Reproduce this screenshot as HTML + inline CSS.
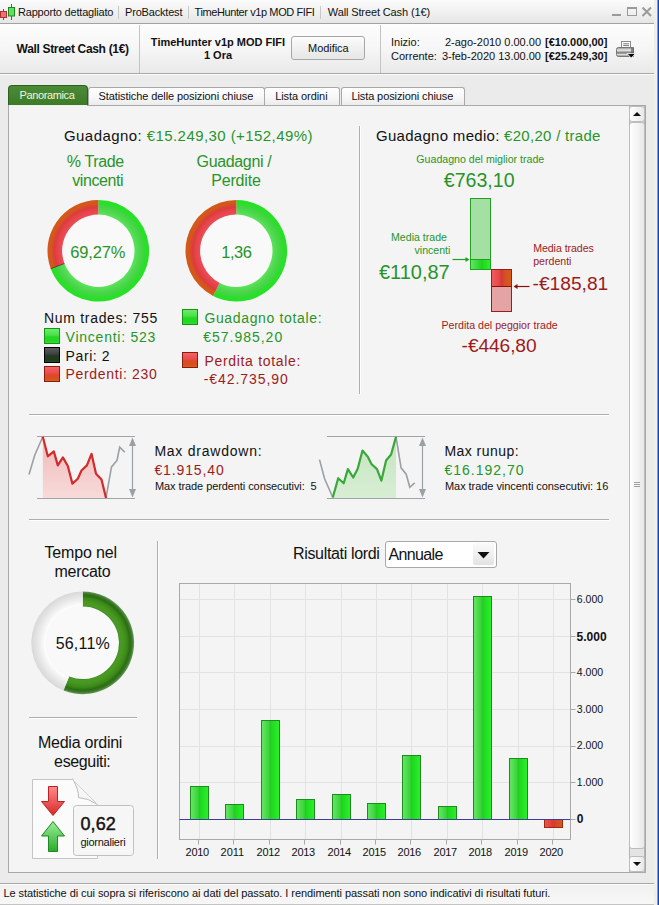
<!DOCTYPE html>
<html><head><meta charset="utf-8"><style>
html,body{margin:0;padding:0;width:659px;height:905px;overflow:hidden;font-family:"Liberation Sans", sans-serif;}
</style></head><body>
<div style="position:absolute;left:0px;top:0px;width:659px;height:905px;background:#ebebeb;"></div>
<div style="position:absolute;left:0px;top:0px;width:654px;height:23px;background:linear-gradient(#fbfbfb,#f3f3f3 40%,#e6e6e6);"></div>
<div style="position:absolute;left:0px;top:23px;width:654px;height:1px;background:#a3a3a3;"></div>
<div style="position:absolute;left:0px;top:24px;width:654px;height:49px;background:linear-gradient(#fdfdfd,#f6f6f6 50%,#e9e9e9);"></div>
<div style="position:absolute;left:0px;top:73px;width:654px;height:1px;background:#a8a8a8;"></div>
<div style="position:absolute;left:0px;top:74px;width:654px;height:1px;background:#fbfbfb;"></div>
<div style="position:absolute;left:139px;top:25px;width:1px;height:48px;background:#c4c4c4;"></div>
<div style="position:absolute;left:380px;top:25px;width:1px;height:48px;background:#c4c4c4;"></div>
<div style="position:absolute;left:654px;top:0px;width:3px;height:905px;background:#efeeea;"></div>
<div style="position:absolute;left:657px;top:0px;width:1px;height:905px;background:#7d9bd6;"></div>
<div style="position:absolute;left:658px;top:0px;width:1px;height:905px;background:#0a47bf;"></div>
<svg style="position:absolute;left:0;top:0" width="18" height="23"><line x1="3.5" y1="9" x2="3.5" y2="20" stroke="#a33" /><rect x="0.5" y="11.5" width="6" height="6" fill="#f07070" stroke="#b03030"/><line x1="11.5" y1="4" x2="11.5" y2="20" stroke="#1a8a1a"/><rect x="8.5" y="7.5" width="6" height="8.5" fill="#60e060" stroke="#1a8a1a"/></svg>
<div style="position:absolute;top:6.69px;font-size:11px;line-height:11px;color:#111;font-weight:normal;white-space:pre;letter-spacing:-0.194px;left:18.00px;">Rapporto dettagliato</div>
<div style="position:absolute;left:118px;top:6px;width:1px;height:13px;background:#c8c8c8;"></div>
<div style="position:absolute;top:6.69px;font-size:11px;line-height:11px;color:#111;font-weight:normal;white-space:pre;letter-spacing:-0.181px;left:125.00px;">ProBacktest</div>
<div style="position:absolute;left:188px;top:6px;width:1px;height:13px;background:#c8c8c8;"></div>
<div style="position:absolute;top:6.69px;font-size:11px;line-height:11px;color:#111;font-weight:normal;white-space:pre;letter-spacing:-0.408px;left:194.60px;">TimeHunter v1p MOD FIFI</div>
<div style="position:absolute;left:320px;top:6px;width:1px;height:13px;background:#c8c8c8;"></div>
<div style="position:absolute;top:6.69px;font-size:11px;line-height:11px;color:#111;font-weight:normal;white-space:pre;letter-spacing:-0.123px;left:327.80px;">Wall Street Cash (1€)</div>
<div style="position:absolute;left:612px;top:14px;width:9px;height:2px;background:#9a9a9a;"></div>
<div style="position:absolute;left:627px;top:7px;width:10px;height:9px;box-sizing:border-box;border:1px solid #9a9a9a;border-top-width:2px;"></div>
<svg style="position:absolute;left:641px;top:6px" width="12" height="11"><path d="M1.5 1.5 L10 10 M10 1.5 L1.5 10" stroke="#9a9a9a" stroke-width="2"/></svg>
<div style="position:absolute;top:43.24px;font-size:12px;line-height:12px;color:#111;font-weight:bold;white-space:pre;letter-spacing:-0.326px;left:16.60px;">Wall Street Cash (1€)</div>
<div style="position:absolute;top:36.69px;font-size:11px;line-height:11px;color:#111;font-weight:bold;white-space:pre;left:-182.00px;width:800px;text-align:center;">TimeHunter v1p MOD FIFI</div>
<div style="position:absolute;top:49.69px;font-size:11px;line-height:11px;color:#111;font-weight:bold;white-space:pre;left:-182.00px;width:800px;text-align:center;">1 Ora</div>
<div style="position:absolute;left:291px;top:36px;width:74px;height:24px;box-sizing:border-box;border:1px solid #a6a6a6;border-radius:3px;background:linear-gradient(#fdfdfd,#f0f0f0 50%,#e6e6e6);"></div>
<div style="position:absolute;top:42.99px;font-size:11px;line-height:11px;color:#111;font-weight:normal;white-space:pre;letter-spacing:-0.067px;left:-71.73px;width:800px;text-align:center;">Modifica</div>
<div style="position:absolute;top:36.69px;font-size:11px;line-height:11px;color:#111;font-weight:normal;white-space:pre;left:391.00px;">Inizio:</div>
<div style="position:absolute;top:50.69px;font-size:11px;line-height:11px;color:#111;font-weight:normal;white-space:pre;left:391.00px;">Corrente:</div>
<div style="position:absolute;top:36.69px;font-size:11px;line-height:11px;color:#111;font-weight:normal;white-space:pre;right:118.00px;">2-ago-2010 0.00.00</div>
<div style="position:absolute;top:50.69px;font-size:11px;line-height:11px;color:#111;font-weight:normal;white-space:pre;right:118.00px;">3-feb-2020 13.00.00</div>
<div style="position:absolute;top:36.69px;font-size:11px;line-height:11px;color:#111;font-weight:bold;white-space:pre;left:545.00px;">[€10.000,00]</div>
<div style="position:absolute;top:50.69px;font-size:11px;line-height:11px;color:#111;font-weight:bold;white-space:pre;left:545.00px;">[€25.249,30]</div>
<svg style="position:absolute;left:608px;top:33px" width="34" height="30">
<defs><linearGradient id="pg" x1="0" y1="0" x2="0" y2="1"><stop offset="0" stop-color="#8c8c8c"/><stop offset="0.3" stop-color="#ececec"/><stop offset="0.5" stop-color="#9a9a9a"/><stop offset="0.62" stop-color="#7a7a7a"/><stop offset="0.78" stop-color="#e0e0e0"/><stop offset="1" stop-color="#7e7e7e"/></linearGradient></defs>
<rect x="13.5" y="8.5" width="9" height="6.5" fill="#fdfdfd" stroke="#8a8a8a"/>
<line x1="15.2" y1="10.8" x2="21" y2="10.8" stroke="#7a7a7a"/>
<line x1="15.2" y1="12.6" x2="21" y2="12.6" stroke="#7a7a7a"/>
<path d="M10.5 14.5 L25.5 14.5 L25.5 23.5 L10.5 23.5 Q8.5 23.5 8.5 21.5 L8.5 16.5 Q8.5 14.5 10.5 14.5 Z" fill="url(#pg)" stroke="#777"/>
<rect x="23" y="15" width="2.5" height="8" fill="#555" opacity="0.6"/>
<path d="M19 20.5 L27.5 20.5 L23.25 25 Z" fill="#0a0a0a" stroke="#fafafa" stroke-width="0.8" stroke-linejoin="round"/>
</svg>
<div style="position:absolute;left:8px;top:85px;width:80px;height:20px;box-sizing:border-box;border-radius:4px 4px 0 0;background:linear-gradient(#4b8b35,#3e7a2a);border:1px solid #2f5f20;border-bottom:none;"></div>
<div style="position:absolute;top:89.89px;font-size:11px;line-height:11px;color:#f2f5dc;font-weight:normal;white-space:pre;letter-spacing:-0.367px;left:-353.08px;width:800px;text-align:center;">Panoramica</div>
<div style="position:absolute;left:88px;top:87px;width:177px;height:18px;box-sizing:border-box;border-radius:3px 3px 0 0;background:linear-gradient(#ffffff,#f6f6f6 60%,#ececec);border:1px solid #a9a9a9;border-bottom:none;"></div>
<div style="position:absolute;top:91.09px;font-size:11px;line-height:11px;color:#111;font-weight:normal;white-space:pre;letter-spacing:-0.090px;left:-224.14px;width:800px;text-align:center;">Statistiche delle posizioni chiuse</div>
<div style="position:absolute;left:264px;top:87px;width:76px;height:18px;box-sizing:border-box;border-radius:3px 3px 0 0;background:linear-gradient(#ffffff,#f6f6f6 60%,#ececec);border:1px solid #a9a9a9;border-bottom:none;"></div>
<div style="position:absolute;top:91.09px;font-size:11px;line-height:11px;color:#111;font-weight:normal;white-space:pre;letter-spacing:-0.073px;left:-98.64px;width:800px;text-align:center;">Lista ordini</div>
<div style="position:absolute;left:341px;top:87px;width:124px;height:18px;box-sizing:border-box;border-radius:3px 3px 0 0;background:linear-gradient(#ffffff,#f6f6f6 60%,#ececec);border:1px solid #a9a9a9;border-bottom:none;"></div>
<div style="position:absolute;top:91.09px;font-size:11px;line-height:11px;color:#111;font-weight:normal;white-space:pre;letter-spacing:-0.093px;left:2.35px;width:800px;text-align:center;">Lista posizioni chiuse</div>
<div style="position:absolute;left:8px;top:105px;width:638px;height:768px;box-sizing:border-box;border:1px solid #a9a9a9;background:#f4f4f4;"></div>
<div style="position:absolute;left:9px;top:105px;width:78px;height:1px;background:#eef5e8;"></div>
<div style="position:absolute;left:629px;top:106px;width:16px;height:766px;box-sizing:border-box;border-left:1px solid #b4b4b4;border-right:1px solid #b4b4b4;background:#e4e4e4;"></div>
<div style="position:absolute;left:629px;top:106px;width:16px;height:16px;box-sizing:border-box;border:1px solid #bcbcbc;border-radius:3px;background:linear-gradient(90deg,#fefefe,#f4f4f4 50%,#e8e8e8);"></div>
<svg style="position:absolute;left:629px;top:106px" width="16" height="16"><path d="M4 10 L12 10 L8 6 Z" fill="#111"/></svg>
<div style="position:absolute;left:629px;top:122px;width:16px;height:727px;box-sizing:border-box;border:1px solid #bcbcbc;border-radius:3px;background:linear-gradient(90deg,#fefefe,#f4f4f4 50%,#e8e8e8);"></div>
<div style="position:absolute;left:634px;top:482px;width:6px;height:1px;background:#a0a0a0;"></div>
<div style="position:absolute;left:634px;top:484px;width:6px;height:1px;background:#a0a0a0;"></div>
<div style="position:absolute;left:634px;top:486px;width:6px;height:1px;background:#a0a0a0;"></div>
<div style="position:absolute;left:629px;top:856px;width:16px;height:16px;box-sizing:border-box;border:1px solid #bcbcbc;border-radius:3px;background:linear-gradient(90deg,#fefefe,#f4f4f4 50%,#e8e8e8);"></div>
<svg style="position:absolute;left:629px;top:856px" width="16" height="16"><path d="M4 6 L12 6 L8 10 Z" fill="#111"/></svg>
<div style="position:absolute;left:0px;top:883px;width:654px;height:1px;background:#a8a8a8;"></div>
<div style="position:absolute;left:0px;top:884px;width:654px;height:1px;background:#fcfcfc;"></div>
<div style="position:absolute;left:0px;top:885px;width:654px;height:19px;background:linear-gradient(#f1f1f1,#f7f7f7);"></div>
<div style="position:absolute;left:0px;top:904px;width:654px;height:1px;background:#c4c4c4;"></div>
<div style="position:absolute;top:887.89px;font-size:11px;line-height:11px;color:#111;font-weight:normal;white-space:pre;letter-spacing:-0.066px;left:3.40px;">Le statistiche di cui sopra si riferiscono ai dati del passato. I rendimenti passati non sono indicativi di risultati futuri.</div>
<div style="position:absolute;top:128.30px;font-size:15px;line-height:15px;color:#111;font-weight:normal;white-space:pre;letter-spacing:0.430px;left:64.00px;">Guadagno: <span style="color:#289428">€15.249,30 (+152,49%)</span></div>
<div style="position:absolute;top:153.96px;font-size:16px;line-height:16px;color:#289428;font-weight:normal;white-space:pre;letter-spacing:-0.366px;left:-304.68px;width:800px;text-align:center;">% Trade</div>
<div style="position:absolute;top:173.16px;font-size:16px;line-height:16px;color:#289428;font-weight:normal;white-space:pre;letter-spacing:-0.436px;left:-302.32px;width:800px;text-align:center;">vincenti</div>
<div style="position:absolute;top:153.96px;font-size:16px;line-height:16px;color:#289428;font-weight:normal;white-space:pre;letter-spacing:-0.353px;left:-166.03px;width:800px;text-align:center;">Guadagni /</div>
<div style="position:absolute;top:173.16px;font-size:16px;line-height:16px;color:#289428;font-weight:normal;white-space:pre;letter-spacing:-0.184px;left:-164.09px;width:800px;text-align:center;">Perdite</div>
<div style="position:absolute;left:62px;top:214px;width:73px;height:73px;border-radius:50%;background:#f9f9f9;"></div>
<div style="position:absolute;left:200px;top:214px;width:73px;height:73px;border-radius:50%;background:#f9f9f9;"></div>
<svg style="position:absolute;left:0;top:0;overflow:visible" width="659" height="905"><defs><radialGradient id="d1a" gradientUnits="userSpaceOnUse" cx="98.3" cy="250.8" r="50.8"><stop offset="0.713" stop-color="#5ce25c"/><stop offset="0.8" stop-color="#4ed84e"/><stop offset="0.87" stop-color="#44d444"/><stop offset="0.91" stop-color="#30dc30"/><stop offset="1" stop-color="#22e222"/></radialGradient><radialGradient id="d1b" gradientUnits="userSpaceOnUse" cx="98.3" cy="250.8" r="50.8"><stop offset="0.713" stop-color="#ec4c56"/><stop offset="0.8" stop-color="#e6444c"/><stop offset="0.86" stop-color="#dc3c3c"/><stop offset="0.9" stop-color="#d84a2a"/><stop offset="0.93" stop-color="#d6561c"/><stop offset="1" stop-color="#d05a18"/></radialGradient></defs><path d="M98.30 200.00 A50.8 50.8 0 1 1 50.76 268.70 L64.42 263.55 A36.2 36.2 0 1 0 98.30 214.60 Z" fill="url(#d1a)"/><path d="M50.76 268.70 A50.8 50.8 0 0 1 98.30 200.00 L98.30 214.60 A36.2 36.2 0 0 0 64.42 263.55 Z" fill="url(#d1b)"/><line x1="64.42" y1="263.55" x2="50.76" y2="268.70" stroke="#333" stroke-width="0.8"/></svg>
<svg style="position:absolute;left:0;top:0;overflow:visible" width="659" height="905"><defs><radialGradient id="d2a" gradientUnits="userSpaceOnUse" cx="236.3" cy="250.8" r="50.8"><stop offset="0.713" stop-color="#5ce25c"/><stop offset="0.8" stop-color="#4ed84e"/><stop offset="0.87" stop-color="#44d444"/><stop offset="0.91" stop-color="#30dc30"/><stop offset="1" stop-color="#22e222"/></radialGradient><radialGradient id="d2b" gradientUnits="userSpaceOnUse" cx="236.3" cy="250.8" r="50.8"><stop offset="0.713" stop-color="#ec4c56"/><stop offset="0.8" stop-color="#e6444c"/><stop offset="0.86" stop-color="#dc3c3c"/><stop offset="0.9" stop-color="#d84a2a"/><stop offset="0.93" stop-color="#d6561c"/><stop offset="1" stop-color="#d05a18"/></radialGradient></defs><path d="M236.30 200.00 A50.8 50.8 0 1 1 213.04 295.96 L219.72 282.98 A36.2 36.2 0 1 0 236.30 214.60 Z" fill="url(#d2a)"/><path d="M213.04 295.96 A50.8 50.8 0 0 1 236.30 200.00 L236.30 214.60 A36.2 36.2 0 0 0 219.72 282.98 Z" fill="url(#d2b)"/></svg>
<div style="position:absolute;top:243.63px;font-size:16.5px;line-height:16.5px;color:#289428;font-weight:normal;white-space:pre;letter-spacing:-0.154px;left:-302.18px;width:800px;text-align:center;">69,27%</div>
<div style="position:absolute;top:243.63px;font-size:16.5px;line-height:16.5px;color:#289428;font-weight:normal;white-space:pre;letter-spacing:-0.442px;left:-163.62px;width:800px;text-align:center;">1,36</div>
<div style="position:absolute;top:310.95px;font-size:14px;line-height:14px;color:#111;font-weight:normal;white-space:pre;letter-spacing:0.693px;left:44.00px;">Num trades: 755</div>
<div style="position:absolute;left:44px;top:328px;width:16px;height:16px;box-sizing:border-box;background:linear-gradient(#6cec6c,#48e048 45%,#26d626 55%,#22d822 85%,#30e030);border:1px solid #169416;"></div>
<div style="position:absolute;top:329.85px;font-size:14px;line-height:14px;color:#289428;font-weight:normal;white-space:pre;letter-spacing:0.758px;left:65.60px;">Vincenti: 523</div>
<div style="position:absolute;left:44px;top:347px;width:16px;height:16px;box-sizing:border-box;background:linear-gradient(#5c5c5c,#3e3e3e 45%,#203a20 55%,#1e3a1e 85%,#2c4a2c);border:1px solid #000;"></div>
<div style="position:absolute;top:348.85px;font-size:14px;line-height:14px;color:#111;font-weight:normal;white-space:pre;letter-spacing:0.589px;left:65.60px;">Pari: 2</div>
<div style="position:absolute;left:44px;top:366px;width:16px;height:16px;box-sizing:border-box;background:linear-gradient(#f56464,#ec4a4a 45%,#dc4a28 55%,#d4521c 85%,#dc6020);border:1px solid #8c1c10;"></div>
<div style="position:absolute;top:367.45px;font-size:14px;line-height:14px;color:#9c1c1c;font-weight:normal;white-space:pre;letter-spacing:0.650px;left:65.60px;">Perdenti: 230</div>
<div style="position:absolute;left:182px;top:309px;width:16px;height:16px;box-sizing:border-box;background:linear-gradient(#6cec6c,#48e048 45%,#26d626 55%,#22d822 85%,#30e030);border:1px solid #169416;"></div>
<div style="position:absolute;top:311.35px;font-size:14px;line-height:14px;color:#289428;font-weight:normal;white-space:pre;letter-spacing:0.652px;left:204.40px;">Guadagno totale:</div>
<div style="position:absolute;top:329.75px;font-size:14px;line-height:14px;color:#289428;font-weight:normal;white-space:pre;letter-spacing:0.991px;left:203.20px;">€57.985,20</div>
<div style="position:absolute;left:182px;top:352px;width:16px;height:16px;box-sizing:border-box;background:linear-gradient(#f56464,#ec4a4a 45%,#dc4a28 55%,#d4521c 85%,#dc6020);border:1px solid #8c1c10;"></div>
<div style="position:absolute;top:354.25px;font-size:14px;line-height:14px;color:#9c1c1c;font-weight:normal;white-space:pre;letter-spacing:0.686px;left:204.40px;">Perdita totale:</div>
<div style="position:absolute;top:371.95px;font-size:14px;line-height:14px;color:#9c1c1c;font-weight:normal;white-space:pre;letter-spacing:0.947px;left:203.70px;">-€42.735,90</div>
<div style="position:absolute;left:359px;top:126px;width:1px;height:268px;background:#aeaeae;"></div>
<div style="position:absolute;left:360px;top:126px;width:1px;height:268px;background:#ffffff;"></div>
<div style="position:absolute;top:128.30px;font-size:15px;line-height:15px;color:#111;font-weight:normal;white-space:pre;letter-spacing:0.290px;left:376.00px;">Guadagno medio: <span style="color:#289428">€20,20 / trade</span></div>
<div style="position:absolute;top:153.83px;font-size:10.6px;line-height:10.6px;color:#289428;font-weight:normal;white-space:pre;letter-spacing:0.004px;left:80.30px;width:800px;text-align:center;">Guadagno del miglior trade</div>
<div style="position:absolute;top:170.81px;font-size:19.6px;line-height:19.6px;color:#289428;font-weight:normal;white-space:pre;left:79.20px;width:800px;text-align:center;">€763,10</div>
<svg style="position:absolute;left:0;top:0;overflow:visible" width="659" height="905">
<defs>
<linearGradient id="bg1" x1="0" x2="1" y1="0" y2="0"><stop offset="0" stop-color="#5ee85e"/><stop offset="0.5" stop-color="#2ad42a"/><stop offset="0.55" stop-color="#18d818"/><stop offset="1" stop-color="#30ec30"/></linearGradient>
<linearGradient id="br1" x1="0" x2="1" y1="0" y2="0"><stop offset="0" stop-color="#f25c5c"/><stop offset="0.35" stop-color="#e84848"/><stop offset="0.5" stop-color="#d83838"/><stop offset="0.7" stop-color="#d05420"/><stop offset="1" stop-color="#dc5a1c"/></linearGradient>
</defs>
<rect x="470.5" y="198.5" width="20" height="71" fill="#a4e0a4" stroke="#22a022"/>
<rect x="471" y="259.5" width="19" height="9.5" fill="url(#bg1)"/>
<line x1="470.5" y1="259.5" x2="490.5" y2="259.5" stroke="#22a022"/>
<rect x="491.5" y="269.5" width="20" height="42" fill="#e4a4a4" stroke="#9a1c1c"/>
<rect x="492" y="270" width="19" height="16.5" fill="url(#br1)"/>
<line x1="491.5" y1="286.5" x2="511.5" y2="286.5" stroke="#8a1010"/>
<line x1="452.5" y1="259.5" x2="467" y2="259.5" stroke="#22a022" stroke-width="1.2"/>
<path d="M469.5 259.5 L465.5 257 L465.5 262 Z" fill="#22a022"/>
<line x1="529.5" y1="286.5" x2="516" y2="286.5" stroke="#8a1010" stroke-width="1.2"/>
<path d="M513.5 286.5 L517.5 284 L517.5 289 Z" fill="#8a1010"/>
</svg>
<div style="position:absolute;top:231.93px;font-size:10.6px;line-height:10.6px;color:#289428;font-weight:normal;white-space:pre;right:212.00px;">Media trade</div>
<div style="position:absolute;top:245.13px;font-size:10.6px;line-height:10.6px;color:#289428;font-weight:normal;white-space:pre;right:208.60px;">vincenti</div>
<div style="position:absolute;top:261.87px;font-size:20px;line-height:20px;color:#289428;font-weight:normal;white-space:pre;right:209.30px;">€110,87</div>
<div style="position:absolute;top:242.83px;font-size:10.6px;line-height:10.6px;color:#9c1c1c;font-weight:normal;white-space:pre;letter-spacing:-0.059px;left:533.20px;">Media trades</div>
<div style="position:absolute;top:256.43px;font-size:10.6px;line-height:10.6px;color:#9c1c1c;font-weight:normal;white-space:pre;left:533.20px;">perdenti</div>
<div style="position:absolute;top:273.95px;font-size:19.2px;line-height:19.2px;color:#9c1c1c;font-weight:normal;white-space:pre;left:532.50px;">-€185,81</div>
<div style="position:absolute;top:320.13px;font-size:10.6px;line-height:10.6px;color:#9c1c1c;font-weight:normal;white-space:pre;letter-spacing:0.007px;left:99.60px;width:800px;text-align:center;">Perdita del peggior trade</div>
<div style="position:absolute;top:336.35px;font-size:19.2px;line-height:19.2px;color:#9c1c1c;font-weight:normal;white-space:pre;letter-spacing:-0.107px;left:99.05px;width:800px;text-align:center;">-€446,80</div>
<div style="position:absolute;left:29px;top:414px;width:580px;height:1px;background:#aeaeae;"></div>
<div style="position:absolute;left:29px;top:415px;width:580px;height:1px;background:#ffffff;"></div>
<div style="position:absolute;left:29px;top:519px;width:580px;height:1px;background:#aeaeae;"></div>
<div style="position:absolute;left:29px;top:520px;width:580px;height:1px;background:#ffffff;"></div>
<svg style="position:absolute;left:0;top:0;overflow:visible" width="659" height="905"><defs><linearGradient id="ddf" x1="0" x2="0" y1="0" y2="1"><stop offset="0" stop-color="#f0b8b8"/><stop offset="1" stop-color="#f8dada"/></linearGradient><linearGradient id="ruf" x1="0" x2="0" y1="0" y2="1"><stop offset="0" stop-color="#c4e4c0"/><stop offset="1" stop-color="#d8eed4"/></linearGradient></defs><polygon points="42.8,436.8 47.8,456.3 53.8,451.4 57.8,465.4 62.9,457.4 67.8,466.0 72.4,483.6 77.8,478.7 81.5,470.5 86.9,465.4 91.5,453.8 96.0,473.8 101.5,479.6 106.0,497.9 106,498 42.8,498" fill="url(#ddf)"/><line x1="37" y1="436.5" x2="135" y2="436.5" stroke="#9ea4a8" stroke-width="1.2"/><line x1="37" y1="498.5" x2="135" y2="498.5" stroke="#9ea4a8" stroke-width="1.2"/><polyline points="29.0,474.5 34.8,455.0 42.8,436.8" fill="none" stroke="#9aa0a4" stroke-width="1.6"/><polyline points="106.0,497.9 111.5,466.9 117.0,460.5 119.7,447.2 124.8,452.3" fill="none" stroke="#9aa0a4" stroke-width="1.6"/><polyline points="42.8,436.8 47.8,456.3 53.8,451.4 57.8,465.4 62.9,457.4 67.8,466.0 72.4,483.6 77.8,478.7 81.5,470.5 86.9,465.4 91.5,453.8 96.0,473.8 101.5,479.6 106.0,497.9" fill="none" stroke="#d42a2a" stroke-width="2.2" stroke-linejoin="round"/><line x1="132.5" y1="440" x2="132.5" y2="495" stroke="#9aa0a4" stroke-width="1.2"/><path d="M132.5 437.5 L129 446 L136 446 Z M132.5 497.5 L129 489 L136 489 Z" fill="#9aa0a4"/><polygon points="332.8,497.5 338.2,478.2 343.7,483.3 347.9,469.1 353.2,477.5 357.7,468.7 362.5,450.5 367.9,456.9 371.6,464.2 377.0,469.1 381.4,480.6 386.1,460.5 391.1,454.5 396.0,436.8 396,498 332.8,498" fill="url(#ruf)"/><line x1="327" y1="436.5" x2="425" y2="436.5" stroke="#9ea4a8" stroke-width="1.2"/><line x1="327" y1="498.5" x2="425" y2="498.5" stroke="#9ea4a8" stroke-width="1.2"/><polyline points="319.5,459.6 324.6,478.7 332.8,497.5" fill="none" stroke="#9aa0a4" stroke-width="1.6"/><polyline points="396.0,436.8 401.1,467.8 406.2,474.2 409.8,487.3 414.7,482.9" fill="none" stroke="#9aa0a4" stroke-width="1.6"/><polyline points="332.8,497.5 338.2,478.2 343.7,483.3 347.9,469.1 353.2,477.5 357.7,468.7 362.5,450.5 367.9,456.9 371.6,464.2 377.0,469.1 381.4,480.6 386.1,460.5 391.1,454.5 396.0,436.8" fill="none" stroke="#38a838" stroke-width="2.2" stroke-linejoin="round"/><line x1="422.5" y1="440" x2="422.5" y2="495" stroke="#9aa0a4" stroke-width="1.2"/><path d="M422.5 437.5 L419 446 L426 446 Z M422.5 497.5 L419 489 L426 489 Z" fill="#9aa0a4"/></svg>
<div style="position:absolute;top:444.35px;font-size:14px;line-height:14px;color:#111;font-weight:normal;white-space:pre;letter-spacing:0.763px;left:154.40px;">Max drawdown:</div>
<div style="position:absolute;top:462.55px;font-size:14px;line-height:14px;color:#9c1c1c;font-weight:normal;white-space:pre;letter-spacing:0.888px;left:154.40px;">€1.915,40</div>
<div style="position:absolute;top:480.89px;font-size:11px;line-height:11px;color:#111;font-weight:normal;white-space:pre;letter-spacing:-0.084px;left:155.00px;">Max trade perdenti consecutivi:  5</div>
<div style="position:absolute;top:444.35px;font-size:14px;line-height:14px;color:#111;font-weight:normal;white-space:pre;letter-spacing:0.473px;left:444.40px;">Max runup:</div>
<div style="position:absolute;top:462.55px;font-size:14px;line-height:14px;color:#289428;font-weight:normal;white-space:pre;letter-spacing:1.014px;left:444.40px;">€16.192,70</div>
<div style="position:absolute;top:480.89px;font-size:11px;line-height:11px;color:#111;font-weight:normal;white-space:pre;letter-spacing:-0.054px;left:445.00px;">Max trade vincenti consecutivi: 16</div>
<div style="position:absolute;left:157px;top:541px;width:1px;height:318px;background:#aeaeae;"></div>
<div style="position:absolute;left:158px;top:541px;width:1px;height:318px;background:#ffffff;"></div>
<div style="position:absolute;left:29px;top:717px;width:108px;height:1px;background:#aeaeae;"></div>
<div style="position:absolute;left:29px;top:718px;width:108px;height:1px;background:#ffffff;"></div>
<div style="position:absolute;top:545.16px;font-size:16px;line-height:16px;color:#111;font-weight:normal;white-space:pre;letter-spacing:-0.154px;left:-319.28px;width:800px;text-align:center;">Tempo nel</div>
<div style="position:absolute;top:563.86px;font-size:16px;line-height:16px;color:#111;font-weight:normal;white-space:pre;letter-spacing:-0.249px;left:-317.57px;width:800px;text-align:center;">mercato</div>
<div style="position:absolute;left:46px;top:606px;width:73px;height:73px;border-radius:50%;background:#f9f9f9;"></div>
<svg style="position:absolute;left:0;top:0;overflow:visible" width="659" height="905"><defs><radialGradient id="d3a" gradientUnits="userSpaceOnUse" cx="82.7" cy="642.8" r="51.4"><stop offset="0.706" stop-color="#3e8a1e"/><stop offset="0.73" stop-color="#4a9a26"/><stop offset="0.8" stop-color="#469620"/><stop offset="0.87" stop-color="#3a8818"/><stop offset="0.92" stop-color="#2c6c14"/><stop offset="0.96" stop-color="#3a7a28"/><stop offset="1" stop-color="#6a9a5a"/></radialGradient><radialGradient id="d3b" gradientUnits="userSpaceOnUse" cx="82.7" cy="642.8" r="51.4"><stop offset="0.706" stop-color="#f7f7f7"/><stop offset="0.73" stop-color="#fdfdfd"/><stop offset="0.8" stop-color="#f2f2f2"/><stop offset="0.9" stop-color="#e4e4e4"/><stop offset="1" stop-color="#d8d8d8"/></radialGradient></defs><path d="M82.70 591.40 A51.4 51.4 0 1 1 63.45 690.46 L69.10 676.46 A36.3 36.3 0 1 0 82.70 606.50 Z" fill="url(#d3a)"/><path d="M63.45 690.46 A51.4 51.4 0 0 1 82.70 591.40 L82.70 606.50 A36.3 36.3 0 0 0 69.10 676.46 Z" fill="url(#d3b)"/></svg>
<div style="position:absolute;top:635.96px;font-size:16px;line-height:16px;color:#111;font-weight:normal;white-space:pre;letter-spacing:0.200px;left:-317.20px;width:800px;text-align:center;">56,11%</div>
<div style="position:absolute;top:735.16px;font-size:16px;line-height:16px;color:#111;font-weight:normal;white-space:pre;letter-spacing:-0.251px;left:-319.93px;width:800px;text-align:center;">Media ordini</div>
<div style="position:absolute;top:754.06px;font-size:16px;line-height:16px;color:#111;font-weight:normal;white-space:pre;letter-spacing:-0.362px;left:-317.73px;width:800px;text-align:center;">eseguiti:</div>
<svg style="position:absolute;left:0;top:0;overflow:visible" width="659" height="905">
<defs>
<linearGradient id="ard" x1="0" x2="0" y1="0" y2="1"><stop offset="0" stop-color="#ff8a8a"/><stop offset="1" stop-color="#d82a2a"/></linearGradient>
<linearGradient id="aru" x1="0" x2="0" y1="0" y2="1"><stop offset="0" stop-color="#9aee9a"/><stop offset="1" stop-color="#2aaa2a"/></linearGradient>
</defs>
<path d="M32.5 779.5 L72.5 779.5 L97.5 804.5 L97.5 858.5 L32.5 858.5 Z" fill="#fbfbfb" stroke="#c4c4c4"/>
<path d="M72.5 778.5 Q79 790 78.5 797.5 Q88 798 97.5 804.5" fill="#f6f6f6" stroke="#bcbcbc"/>
<line x1="72.5" y1="779.5" x2="97.5" y2="804.5" stroke="#cfcfcf"/>
<path d="M48.5 786.5 L57.5 786.5 L57.5 801.5 L64.5 801.5 L53 815.5 L41.5 801.5 L48.5 801.5 Z" fill="url(#ard)" stroke="#b82222"/>
<path d="M53 821.5 L64.5 836 L57.5 836 L57.5 851.5 L48.5 851.5 L48.5 836 L41.5 836 Z" fill="url(#aru)" stroke="#1f8a1f"/>
<rect x="73.5" y="805.5" width="60" height="50" rx="3" fill="#f6f6f6" stroke="#c0c0c0"/>
</svg>
<div style="position:absolute;top:815.06px;font-size:18px;line-height:18px;color:#111;font-weight:normal;white-space:pre;letter-spacing:0.118px;left:80.40px;-webkit-text-stroke:0.45px #111;">0,62</div>
<div style="position:absolute;top:836.59px;font-size:11px;line-height:11px;color:#111;font-weight:normal;white-space:pre;letter-spacing:-0.250px;left:80.40px;">giornalieri</div>
<div style="position:absolute;top:546.46px;font-size:16px;line-height:16px;color:#111;font-weight:normal;white-space:pre;letter-spacing:-0.335px;left:293.00px;">Risultati lordi</div>
<div style="position:absolute;left:385px;top:541px;width:112px;height:27px;box-sizing:border-box;border:1px solid #a8a8a8;border-radius:3px;background:#fff;"></div>
<div style="position:absolute;left:473px;top:543px;width:21px;height:22px;background:linear-gradient(#fafafa,#f0f0f0 50%,#e2e2e2);border-radius:2px;"></div>
<svg style="position:absolute;left:0;top:0" width="659" height="905"><path d="M477.5 552 L489.5 552 L483.5 558.5 Z" fill="#111"/></svg>
<div style="position:absolute;top:546.76px;font-size:16px;line-height:16px;color:#111;font-weight:normal;white-space:pre;letter-spacing:-0.670px;left:388.60px;">Annuale</div>
<svg style="position:absolute;left:0;top:0;overflow:visible" width="659" height="905"><defs><linearGradient id="cbg" x1="0" x2="1" y1="0" y2="0"><stop offset="0" stop-color="#66e866"/><stop offset="0.4" stop-color="#3cd43c"/><stop offset="0.5" stop-color="#24cc24"/><stop offset="0.55" stop-color="#1ed81e"/><stop offset="1" stop-color="#2cf02c"/></linearGradient><linearGradient id="cbr" x1="0" x2="1" y1="0" y2="0"><stop offset="0" stop-color="#f05050"/><stop offset="0.5" stop-color="#d83a30"/><stop offset="1" stop-color="#d06018"/></linearGradient></defs><rect x="179.5" y="583.5" width="391.0" height="256.0" fill="#f4f4f4" stroke="#a9a9a9"/><line x1="180.0" y1="782.5" x2="570.0" y2="782.5" stroke="#e2e2e2"/><line x1="180.0" y1="746.5" x2="570.0" y2="746.5" stroke="#e2e2e2"/><line x1="180.0" y1="709.5" x2="570.0" y2="709.5" stroke="#e2e2e2"/><line x1="180.0" y1="672.5" x2="570.0" y2="672.5" stroke="#e2e2e2"/><line x1="180.0" y1="636.5" x2="570.0" y2="636.5" stroke="#e2e2e2"/><line x1="180.0" y1="599.5" x2="570.0" y2="599.5" stroke="#e2e2e2"/><line x1="199.5" y1="584.0" x2="199.5" y2="839.0" stroke="#e2e2e2"/><line x1="198.5" y1="839.5" x2="198.5" y2="844.5" stroke="#a9a9a9"/><line x1="234.5" y1="584.0" x2="234.5" y2="839.0" stroke="#e2e2e2"/><line x1="233.5" y1="839.5" x2="233.5" y2="844.5" stroke="#a9a9a9"/><line x1="270.5" y1="584.0" x2="270.5" y2="839.0" stroke="#e2e2e2"/><line x1="269.5" y1="839.5" x2="269.5" y2="844.5" stroke="#a9a9a9"/><line x1="305.5" y1="584.0" x2="305.5" y2="839.0" stroke="#e2e2e2"/><line x1="304.5" y1="839.5" x2="304.5" y2="844.5" stroke="#a9a9a9"/><line x1="341.5" y1="584.0" x2="341.5" y2="839.0" stroke="#e2e2e2"/><line x1="340.5" y1="839.5" x2="340.5" y2="844.5" stroke="#a9a9a9"/><line x1="376.5" y1="584.0" x2="376.5" y2="839.0" stroke="#e2e2e2"/><line x1="375.5" y1="839.5" x2="375.5" y2="844.5" stroke="#a9a9a9"/><line x1="411.5" y1="584.0" x2="411.5" y2="839.0" stroke="#e2e2e2"/><line x1="410.5" y1="839.5" x2="410.5" y2="844.5" stroke="#a9a9a9"/><line x1="447.5" y1="584.0" x2="447.5" y2="839.0" stroke="#e2e2e2"/><line x1="446.5" y1="839.5" x2="446.5" y2="844.5" stroke="#a9a9a9"/><line x1="482.5" y1="584.0" x2="482.5" y2="839.0" stroke="#e2e2e2"/><line x1="481.5" y1="839.5" x2="481.5" y2="844.5" stroke="#a9a9a9"/><line x1="518.5" y1="584.0" x2="518.5" y2="839.0" stroke="#e2e2e2"/><line x1="517.5" y1="839.5" x2="517.5" y2="844.5" stroke="#a9a9a9"/><line x1="553.5" y1="584.0" x2="553.5" y2="839.0" stroke="#e2e2e2"/><line x1="552.5" y1="839.5" x2="552.5" y2="844.5" stroke="#a9a9a9"/><rect x="190.5" y="786.5" width="18" height="33" fill="url(#cbg)" stroke="#1c8c1c"/><rect x="225.5" y="804.5" width="18" height="15" fill="url(#cbg)" stroke="#1c8c1c"/><rect x="261.5" y="720.5" width="18" height="99" fill="url(#cbg)" stroke="#1c8c1c"/><rect x="296.5" y="799.5" width="18" height="20" fill="url(#cbg)" stroke="#1c8c1c"/><rect x="332.5" y="794.5" width="18" height="25" fill="url(#cbg)" stroke="#1c8c1c"/><rect x="367.5" y="803.5" width="18" height="16" fill="url(#cbg)" stroke="#1c8c1c"/><rect x="402.5" y="755.5" width="18" height="64" fill="url(#cbg)" stroke="#1c8c1c"/><rect x="438.5" y="806.5" width="18" height="13" fill="url(#cbg)" stroke="#1c8c1c"/><rect x="473.5" y="596.5" width="18" height="223" fill="url(#cbg)" stroke="#1c8c1c"/><rect x="509.5" y="758.5" width="18" height="61" fill="url(#cbg)" stroke="#1c8c1c"/><rect x="544.5" y="819.5" width="18" height="8" fill="url(#cbr)" stroke="#9a2a10"/><line x1="179.5" y1="819.5" x2="570.5" y2="819.5" stroke="#3c3c9c" stroke-width="1"/><line x1="570.5" y1="819.5" x2="575.5" y2="819.5" stroke="#a9a9a9"/><line x1="570.5" y1="782.5" x2="575.5" y2="782.5" stroke="#a9a9a9"/><line x1="570.5" y1="746.5" x2="575.5" y2="746.5" stroke="#a9a9a9"/><line x1="570.5" y1="709.5" x2="575.5" y2="709.5" stroke="#a9a9a9"/><line x1="570.5" y1="672.5" x2="575.5" y2="672.5" stroke="#a9a9a9"/><line x1="570.5" y1="636.5" x2="575.5" y2="636.5" stroke="#a9a9a9"/><line x1="570.5" y1="599.5" x2="575.5" y2="599.5" stroke="#a9a9a9"/></svg>
<div style="position:absolute;top:846.69px;font-size:11px;line-height:11px;color:#111;font-weight:normal;white-space:pre;letter-spacing:-0.295px;left:-202.75px;width:800px;text-align:center;">2010</div>
<div style="position:absolute;top:846.69px;font-size:11px;line-height:11px;color:#111;font-weight:normal;white-space:pre;letter-spacing:-0.019px;left:-167.61px;width:800px;text-align:center;">2011</div>
<div style="position:absolute;top:846.69px;font-size:11px;line-height:11px;color:#111;font-weight:normal;white-space:pre;letter-spacing:-0.295px;left:-131.75px;width:800px;text-align:center;">2012</div>
<div style="position:absolute;top:846.69px;font-size:11px;line-height:11px;color:#111;font-weight:normal;white-space:pre;letter-spacing:-0.295px;left:-96.75px;width:800px;text-align:center;">2013</div>
<div style="position:absolute;top:846.69px;font-size:11px;line-height:11px;color:#111;font-weight:normal;white-space:pre;letter-spacing:-0.295px;left:-60.75px;width:800px;text-align:center;">2014</div>
<div style="position:absolute;top:846.69px;font-size:11px;line-height:11px;color:#111;font-weight:normal;white-space:pre;letter-spacing:-0.295px;left:-25.75px;width:800px;text-align:center;">2015</div>
<div style="position:absolute;top:846.69px;font-size:11px;line-height:11px;color:#111;font-weight:normal;white-space:pre;letter-spacing:-0.295px;left:9.25px;width:800px;text-align:center;">2016</div>
<div style="position:absolute;top:846.69px;font-size:11px;line-height:11px;color:#111;font-weight:normal;white-space:pre;letter-spacing:-0.295px;left:45.25px;width:800px;text-align:center;">2017</div>
<div style="position:absolute;top:846.69px;font-size:11px;line-height:11px;color:#111;font-weight:normal;white-space:pre;letter-spacing:-0.295px;left:80.25px;width:800px;text-align:center;">2018</div>
<div style="position:absolute;top:846.69px;font-size:11px;line-height:11px;color:#111;font-weight:normal;white-space:pre;letter-spacing:-0.295px;left:116.25px;width:800px;text-align:center;">2019</div>
<div style="position:absolute;top:846.69px;font-size:11px;line-height:11px;color:#111;font-weight:normal;white-space:pre;letter-spacing:-0.295px;left:151.25px;width:800px;text-align:center;">2020</div>
<div style="position:absolute;top:777.04px;font-size:10.5px;line-height:10.5px;color:#111;font-weight:normal;white-space:pre;left:576.80px;">1.000</div>
<div style="position:absolute;top:740.37px;font-size:10.5px;line-height:10.5px;color:#111;font-weight:normal;white-space:pre;left:576.80px;">2.000</div>
<div style="position:absolute;top:703.70px;font-size:10.5px;line-height:10.5px;color:#111;font-weight:normal;white-space:pre;left:576.80px;">3.000</div>
<div style="position:absolute;top:667.03px;font-size:10.5px;line-height:10.5px;color:#111;font-weight:normal;white-space:pre;left:576.80px;">4.000</div>
<div style="position:absolute;top:630.69px;font-size:12px;line-height:12px;color:#111;font-weight:bold;white-space:pre;letter-spacing:0.067px;left:576.40px;">5.000</div>
<div style="position:absolute;top:593.69px;font-size:10.5px;line-height:10.5px;color:#111;font-weight:normal;white-space:pre;left:576.80px;">6.000</div>
<div style="position:absolute;top:812.84px;font-size:12px;line-height:12px;color:#111;font-weight:bold;white-space:pre;left:576.80px;">0</div>
</body></html>
